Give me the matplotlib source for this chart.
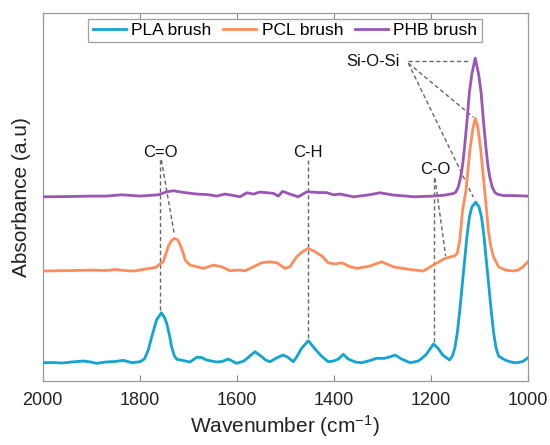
import matplotlib
matplotlib.use("Agg")
import matplotlib.pyplot as plt

plt.rcParams['font.family'] = ['Liberation Sans', 'DejaVu Sans']

# PLA brush (blue)
pla_wn = [2000, 1980, 1960, 1940, 1916, 1900, 1888, 1870, 1850, 1833, 1816, 1799,
          1790, 1782, 1775, 1765, 1755, 1748, 1744, 1738, 1734, 1728, 1723, 1710,
          1696, 1682, 1672, 1662, 1641, 1630, 1617, 1600, 1585, 1575, 1562, 1550,
          1540, 1531, 1518, 1504, 1495, 1483, 1475, 1466, 1452, 1440, 1425, 1411,
          1400, 1390, 1380, 1370, 1355, 1342, 1325, 1311, 1295, 1285, 1273, 1260,
          1242, 1225, 1210, 1194, 1185, 1175, 1161, 1155, 1150, 1145, 1140, 1135,
          1130, 1125, 1120, 1115, 1107, 1100, 1095, 1090, 1085, 1080, 1075, 1070,
          1065, 1060, 1050, 1043, 1030, 1022, 1010, 1000]
pla_abs = [18.3, 18.5, 18.0, 19.0, 20.0, 19.0, 17.7, 19.0, 19.5, 20.7, 18.3, 19.3,
           22.0, 31.0, 44.0, 61.0, 68.3, 63.0, 57.7, 45.0, 34.3, 25.0, 21.7, 20.5,
           19.0, 23.7, 23.5, 21.0, 19.0, 19.5, 22.0, 17.7, 20.0, 24.0, 29.3, 25.0,
           21.0, 19.3, 23.0, 26.0, 24.0, 19.3, 25.0, 32.7, 40.3, 33.0, 25.0, 19.3,
           20.0, 22.0, 26.7, 22.0, 19.0, 18.3, 20.5, 22.7, 22.7, 24.0, 26.0, 22.0,
           18.3, 20.0, 26.0, 37.0, 33.0, 26.0, 21.0, 25.0, 33.0, 48.0, 70.0, 95.0,
           120.0, 145.0, 164.0, 174.0, 179.0, 174.0, 164.0, 145.0, 120.0, 95.0, 70.0, 48.0,
           33.0, 25.0, 22.0, 20.3, 18.5, 18.3, 19.5, 23.0]

# PCL brush (orange)
pcl_wn = [2000, 1970, 1940, 1900, 1870, 1850, 1830, 1810, 1795, 1778, 1765, 1761,
          1751, 1741, 1735, 1728, 1721, 1716, 1710, 1706, 1696, 1682, 1668, 1648,
          1631, 1613, 1596, 1582, 1565, 1548, 1531, 1517, 1500, 1490, 1476, 1465,
          1452, 1438, 1424, 1411, 1397, 1383, 1366, 1352, 1325, 1301, 1277, 1249,
          1215, 1191, 1170, 1150, 1145, 1140, 1134, 1127, 1119, 1113, 1108, 1103,
          1096.5, 1090, 1084, 1081, 1076, 1070.5, 1060, 1046, 1030, 1020, 1010, 1000]
pcl_abs = [110.0, 110.3, 110.5, 111.0, 110.5, 111.5, 110.5, 110.0, 111.5, 112.7, 114.0, 116.0,
           119.3, 134.3, 140.0, 142.7, 141.0, 136.0, 128.0, 121.0, 116.0, 114.3, 112.7, 116.0,
           114.3, 110.3, 111.0, 110.3, 114.3, 118.3, 119.3, 118.3, 112.7, 114.3, 124.3, 129.0,
           132.7, 129.3, 125.0, 118.3, 117.0, 118.3, 114.3, 112.7, 115.0, 119.3, 114.3, 112.0,
           110.0, 117.0, 122.7, 125.3, 128.0, 140.0, 171.0, 191.0, 231.0, 252.0, 262.7, 255.0,
           231.0, 197.7, 167.7, 151.0, 135.0, 124.3, 114.3, 111.0, 110.0, 111.0, 114.0, 119.0]

# PHB brush (purple)
phb_wn = [2000, 1950, 1900, 1868, 1837, 1799, 1761, 1744, 1730, 1710, 1682, 1660,
          1641, 1624, 1605, 1593, 1579, 1565, 1552, 1524, 1514, 1505, 1490, 1473,
          1455, 1430, 1415, 1400, 1387, 1359, 1330, 1304, 1277, 1250, 1235, 1194,
          1170, 1160, 1153, 1148, 1143, 1138, 1134, 1130, 1125, 1120, 1115, 1108,
          1101, 1096, 1091, 1086, 1082, 1078, 1073, 1068, 1063, 1050, 1030, 1000]
phb_abs = [184.3, 184.5, 185.0, 185.0, 186.3, 185.0, 186.3, 189.3, 190.3, 188.7, 187.0, 186.5,
           185.0, 187.0, 185.5, 184.3, 188.3, 187.0, 189.0, 187.7, 185.0, 189.7, 187.0, 184.3,
           189.3, 188.5, 188.5, 186.3, 187.0, 184.3, 186.0, 188.3, 186.0, 185.0, 184.3, 185.0,
           186.0, 187.0, 187.5, 189.0, 194.0, 204.0, 216.0, 234.0, 260.0, 289.0, 307.0, 323.0,
           307.0, 289.0, 260.0, 234.0, 216.0, 204.0, 194.0, 189.0, 187.0, 185.5, 185.5, 185.0]

# band labels: (text, wavenumber, height)
labels = ["C=O", "C-H", "C-O", "Si-O-Si"]
label_wn = [1756, 1452, 1191, 1319]
label_y = [229, 229, 212, 320]

# guide lines: (start wn, start y, end wn, end y)
guide_start_wn = [1757, 1755, 1452, 1193, 1191, 1246, 1246, 1246]
guide_start_y = [221, 221, 221, 203, 203, 320, 318, 318]
guide_end_wn = [1757, 1728, 1452, 1193, 1169, 1119, 1112, 1112]
guide_end_y = [70, 146, 42, 39, 125, 320, 264, 184]

fig = plt.figure(figsize=(5.5, 4.45), dpi=100)
ax = fig.add_axes([0.0773, 0.1438, 0.882, 0.826])

# dashed guides from band labels to peaks
for x0, y0, x1, y1 in zip(guide_start_wn, guide_start_y, guide_end_wn, guide_end_y):
    ax.plot([x0, x1], [y0, y1], color='#666666', lw=1.0, linestyle=(0, (3, 2)), zorder=1)

ax.plot(pla_wn, pla_abs, color='#12a4d2', lw=2.0, label='PLA brush', zorder=3)
ax.plot(pcl_wn, pcl_abs, color='#ff8c5a', lw=2.0, label='PCL brush', zorder=3)
ax.plot(phb_wn, phb_abs, color='#9b55b5', lw=2.0, label='PHB brush', zorder=3)

for t, x, y in zip(labels, label_wn, label_y):
    ax.text(x, y, t, ha='center', va='center', fontsize=12, color='#111111')

ax.set_xlim(2000, 1000)
ax.set_ylim(0, 367.7)
ax.set_xticks([2000, 1800, 1600, 1400, 1200, 1000])
ax.set_yticks([])
ax.tick_params(axis='x', direction='in', top=True, length=4, color='#888888',
               labelsize=13, pad=8, labelcolor='#222222')
for s in ax.spines.values():
    s.set_color('#999999')
    s.set_linewidth(0.9)

ax.set_xlabel(r'Wavenumber (cm$\mathregular{^{-1}}$)', fontsize=15, color='#222222', labelpad=3)
ax.set_ylabel('Absorbance (a.u)', fontsize=15, color='#222222', labelpad=8)

leg = ax.legend(loc='upper center', ncol=3, fontsize=12.5, frameon=True, fancybox=False,
                edgecolor='#888888', handlelength=1.9, handletextpad=0.3,
                columnspacing=0.7, borderaxespad=0.3, borderpad=0.25)
leg.get_frame().set_linewidth(0.9)

fig.savefig('out.png', dpi=100)
